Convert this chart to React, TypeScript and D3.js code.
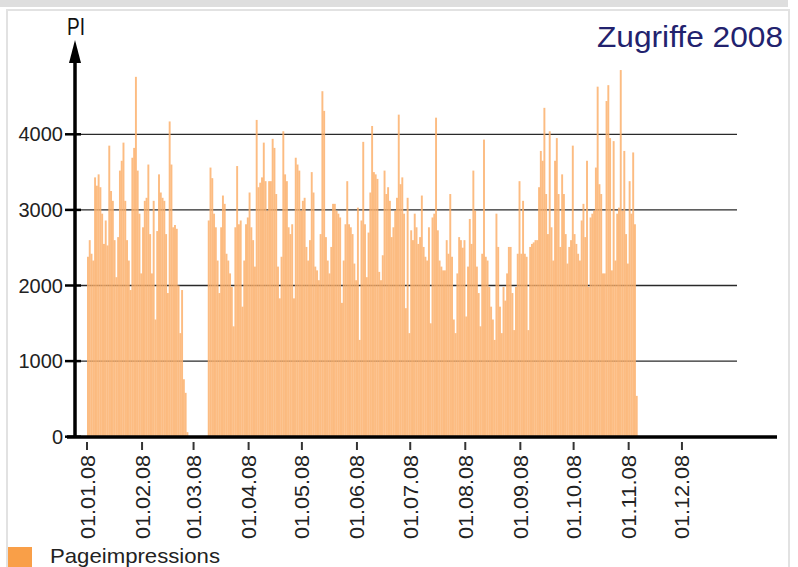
import React from 'react';
import * as d3 from 'd3';

// daily page impressions 2008, one array per month
const jan = [2380, 2600, 2420, 2330, 3430, 3320, 3470, 3300, 2950, 2550, 2860, 2530, 3850, 3250, 3120, 2600, 2110, 2640, 3520, 3650, 3890, 3120, 2600, 2330, 1940, 3690, 3820, 4760, 3520, 2950, 2160];
const feb = [2770, 3120, 3160, 3600, 2680, 2160, 3120, 1550, 2720, 3470, 3230, 3160, 3120, 2680, 1900, 4170, 3600, 2770, 2800, 2750, 2000, 1370, 1940, 760, 580, 60, 0, 0, 0];
const mar = [0, 0, 0, 0, 0, 0, 0, 0, 2860, 3560, 3420, 2950, 2770, 2330, 1900, 2770, 3190, 3080, 2420, 2330, 2160, 1980, 1460, 2770, 3580, 2810, 2860, 1720, 2330, 2810, 2900];
const apr = [3230, 2770, 2600, 2250, 4190, 3300, 3360, 3430, 3890, 3380, 2990, 3380, 3380, 3940, 3820, 3210, 2250, 1830, 2380, 4040, 3470, 3380, 2770, 2680, 2810, 1830, 3690, 3600, 3520, 2990];
const may = [3120, 3160, 2510, 2330, 2600, 3500, 3230, 2250, 2200, 2070, 2680, 4570, 4310, 2640, 2330, 2160, 2510, 3080, 3080, 2990, 2950, 2900, 1770, 2330, 2810, 3380, 2810, 2770, 2680, 2290, 2070];
const jun = [3030, 1280, 2860, 3900, 2810, 2110, 2700, 3230, 4110, 3500, 3470, 3410, 2180, 2070, 2400, 3520, 3210, 3300, 3120, 2640, 2770, 2990, 3160, 4260, 3340, 3430, 2950, 1700, 3160, 1370];
const jul = [2730, 2600, 2950, 2770, 2550, 2640, 3190, 2510, 2380, 2330, 2770, 1500, 2900, 2950, 4220, 2730, 2330, 2250, 2200, 2200, 2600, 2420, 3210, 2380, 1550, 1370, 2160, 2640, 2600, 2500, 2600];
const aug = [1590, 2250, 2880, 2550, 3520, 2990, 2250, 1900, 1460, 2420, 3930, 2380, 2330, 1980, 1720, 1550, 1280, 2950, 2510, 1720, 1370, 1980, 1800, 2160, 2510, 2510, 1900, 1410, 1980, 2420, 3380];
const sep = [2420, 3120, 2420, 2380, 1410, 2510, 2550, 2570, 2600, 2600, 3300, 3780, 3650, 4350, 3210, 2680, 4040, 2770, 2330, 3650, 3950, 3210, 2510, 3470, 3210, 2680, 2290, 2510, 2600, 3850];
const oct = [2680, 2550, 2420, 2330, 2860, 3080, 2640, 3650, 1980, 2900, 2950, 2990, 3560, 4630, 3340, 3210, 2160, 2160, 4440, 4650, 3950, 2200, 3910, 2330, 2950, 3030, 4850, 2990, 3780, 2680, 2290];
const nov = [3380, 2950, 3760, 2810, 540];

const months = [jan, feb, mar, apr, may, jun, jul, aug, sep, oct, nov];
const yTicks = [0, 1000, 2000, 3000, 4000];
const title = 'Zugriffe 2008';
const yTitle = 'PI';
const seriesName = 'Pageimpressions';

const font = '"Liberation Sans", Arial, sans-serif';

export default function App() {
  const x = d3
    .scaleTime()
    .domain([new Date(2008, 0, 1), new Date(2009, 0, 1)])
    .range([87, 737]);
  const y = d3.scaleLinear().domain([0, 4000]).range([436.7, 134.3]);

  // flatten month arrays into one row per day
  const days = months.flatMap((vals, m) =>
    vals.map((v, i) => ({ date: new Date(2008, m, i + 1), v }))
  );
  const monthTicks = d3.timeMonth.range(new Date(2008, 0, 1), new Date(2008, 11, 2));
  const fmt = d3.timeFormat('%d.%m.%y');

  return (
    <svg
      width={798}
      height={567}
      style={{ position: 'absolute', left: 0, top: 0, background: '#fff' }}
    >
      {/* frame */}
      <rect x={0} y={0} width={788} height={7} fill="#dedede" />
      <rect x={7} y={10} width={782} height={600} fill="#fff" stroke="#e2e2e2" strokeWidth={2} />

      {/* grid lines, behind the semi-transparent bars */}
      {yTicks.filter((t) => t > 0).map((t) => (
        <line key={t} x1={80} x2={737} y1={y(t)} y2={y(t)} stroke="#2a2a2a" strokeWidth={1.3} />
      ))}

      {/* bars */}
      <g>
        {days.map((d) => {
          const x0 = x(d.date);
          const x1 = x(d3.timeDay.offset(d.date, 1));
          if (!d.v) return null;
          return (
            <rect
              key={+d.date}
              x={x0}
              y={y(d.v)}
              width={x1 - x0 + 0.15}
              height={y(0) - y(d.v)}
              fill="#fcb06c"
              fillOpacity={0.85}
            />
          );
        })}
      </g>

      {/* y axis */}
      <line x1={75} x2={75} y1={437} y2={58} stroke="#000" strokeWidth={3.5} />
      <polygon points="75,40 69,63 81,63" fill="#000" />
      {yTicks.map((t) => (
        <g key={t}>
          <line x1={65} x2={81} y1={y(t)} y2={y(t)} stroke="#000" strokeWidth={2.5} />
          <text x={63} y={y(t) + 7} textAnchor="end" fontFamily={font} fontSize={20} fill="#222">
            {t}
          </text>
        </g>
      ))}
      <text x={67} y={35} fontFamily={font} fontSize={23} fill="#111" textLength={18} lengthAdjust="spacingAndGlyphs">
        {yTitle}
      </text>

      {/* x axis */}
      <line x1={67} x2={777} y1={437} y2={437} stroke="#000" strokeWidth={3.5} />
      {monthTicks.map((d) => {
        const xm = x(d);
        return (
          <g key={+d}>
            <line x1={xm} x2={xm} y1={442} y2={450} stroke="#333" strokeWidth={2} />
            <text
              transform={`translate(${xm + 7.5},455) rotate(-90)`}
              textAnchor="end"
              fontFamily={font}
              fontSize={21}
              fill="#222"
              textLength={84}
              lengthAdjust="spacingAndGlyphs"
            >
              {fmt(d)}
            </text>
          </g>
        );
      })}

      {/* title */}
      <text x={783} y={47} textAnchor="end" fontFamily={font} fontSize={30} fill="#22226e" textLength={186} lengthAdjust="spacingAndGlyphs">
        {title}
      </text>

      {/* legend */}
      <rect x={8} y={547} width={24} height={24} fill="#f99f48" />
      <text x={50} y={563} fontFamily={font} fontSize={21} fill="#222" textLength={170} lengthAdjust="spacingAndGlyphs">
        {seriesName}
      </text>
    </svg>
  );
}
